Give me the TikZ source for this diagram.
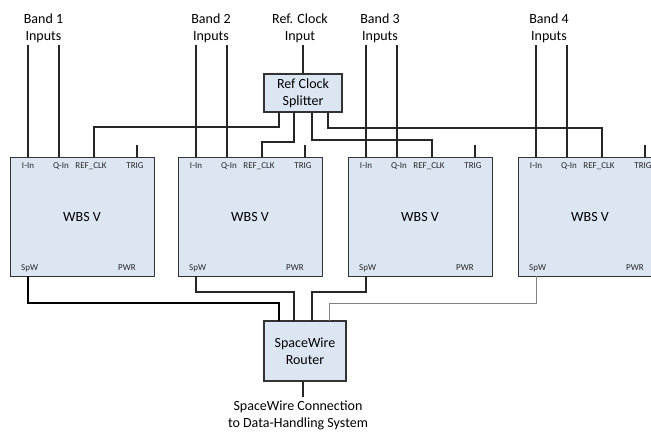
\documentclass[tikz,border=0pt]{standalone}
\usepackage{fontspec}
\setmainfont{Carlito}
\usetikzlibrary{calc}
\begin{document}
\begin{tikzpicture}[x=1pt,y=-1pt,
  wire/.style={line width=1.2pt,draw=black!85},
  unitbox/.style={draw=black!80,line width=1.3pt,fill=boxblue,minimum width=144pt,minimum height=119pt,inner sep=0pt,anchor=north west},
  smallbox/.style={draw=black!80,line width=1.3pt,fill=boxblue,inner sep=0pt,align=center,font=\fontsize{14}{17}\selectfont},
  pinlbl/.style={font=\fontsize{9}{10}\selectfont,inner sep=0pt,text=black!85},
  biglbl/.style={font=\fontsize{14}{17}\selectfont,align=center,inner sep=0pt}]
\definecolor{boxblue}{HTML}{DCE6F2}
\clip (0,0) rectangle (651,432);
\fill[white] (0,0) rectangle (651,432);

% WBS V units with their pin positions
\foreach \k/\lx in {1/10,2/178,3/348,4/518}{
  \node[unitbox] (w\k) at (\lx,157) {};
  \node[biglbl] (w\k-name) at ($(w\k.north west)+(72,60)$) {WBS V};
  \node[pinlbl] (w\k-il) at ($(w\k.north west)+(18,9)$) {I-In};
  \node[pinlbl] (w\k-ql) at ($(w\k.north west)+(51,9)$) {Q-In};
  \node[pinlbl] (w\k-rl) at ($(w\k.north west)+(81,9)$) {REF\_CLK};
  \node[pinlbl] (w\k-tl) at ($(w\k.north west)+(125,9)$) {TRIG};
  \node[pinlbl,anchor=west] (w\k-sl) at ($(w\k.north west)+(11,111)$) {SpW};
  \node[pinlbl] (w\k-pl) at ($(w\k.north west)+(117,111)$) {PWR};
  \coordinate (w\k-i) at ($(w\k.north west)+(18,0)$);
  \coordinate (w\k-q) at ($(w\k.north west)+(49,0)$);
  \coordinate (w\k-r) at ($(w\k.north west)+(84,0)$);
  \coordinate (w\k-t) at ($(w\k.north west)+(127,0)$);
  \coordinate (w\k-s) at ($(w\k.north west)+(18,119)$);
  \coordinate (w\k-tt) at ($(w\k-t)+(0,-12)$);
  \draw[wire] (w\k-tt) -- (w\k-t);
}

% band input labels and their lines
\foreach \k/\cx in {1/43.5,2/211,3/380,4/549}{
  \node[biglbl] (band\k) at (\cx,28) {Band \k\\Inputs};
  \coordinate (band\k-i) at (w\k-i |- 0,45);
  \coordinate (band\k-q) at (w\k-q |- 0,45);
  \draw[wire] (band\k-i) -- (w\k-i);
  \draw[wire] (band\k-q) -- (w\k-q);
}

% reference clock splitter
\node[smallbox,minimum width=78pt,minimum height=38pt] (split) at (303,93) {Ref Clock\\Splitter};
\node[biglbl] (refin) at (300,28) {Ref. Clock\\Input};
\coordinate (refin-end) at (303,45);
\draw[wire] (refin-end) -- (split.north -| refin-end);
\coordinate (sp1) at (279,112);
\coordinate (sp2) at (294,112);
\coordinate (sp3) at (312,112);
\coordinate (sp4) at (328,112);
\draw[wire] (sp1) -- ++(0,15) -| (w1-r);
\draw[wire] (sp2) -- ++(0,30) -| (w2-r);
\draw[wire] (sp3) -- ++(0,28) -| (w3-r);
\draw[wire] (sp4) -- ++(0,16) -| (w4-r);

% SpaceWire router
\node[smallbox,minimum width=82pt,minimum height=60pt] (router) at (305,351) {SpaceWire\\Router};
\coordinate (r1) at (279,321);
\coordinate (r2) at (294,321);
\coordinate (r3) at (312,321);
\coordinate (r4) at (329,321);
\draw[line width=2pt,draw=black] (w1-s) -- ++(0,27) -| (r1);
\draw[wire] (w2-s) -- ++(0,16) -| (r2);
\draw[wire] (w3-s) -- ++(0,16) -| (r3);
\draw[line width=0.9pt,draw=black!50] (w4-s) -- ++(0,27) -| (r4);

\coordinate (link-end) at (303,397);
\draw[wire] (router.south -| link-end) -- (link-end);
\node[biglbl] (link) at (298,415.5) {SpaceWire Connection\\to Data-Handling System};
\end{tikzpicture}
\end{document}
